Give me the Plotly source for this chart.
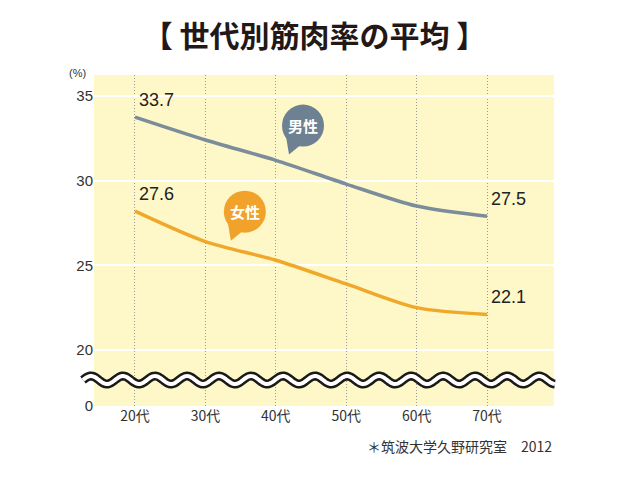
import numpy as np
import plotly.graph_objects as go

# Data
ages = ['20代', '30代', '40代', '50代', '60代', '70代']
men = [33.75, 32.4, 31.2, 29.8, 28.5, 27.9]
women = [28.2, 26.4, 25.3, 23.9, 22.5, 22.1]
men_labels = ['33.7', '27.5']
women_labels = ['27.6', '22.1']
y_ticks = [16.7, 20, 25, 30, 35]
y_ticktext = ['0', '20', '25', '30', '35']

MEN_COLOR = '#7b8c9a'
WOMEN_COLOR = '#f0a82a'
FONT = 'Liberation Sans, Noto Sans CJK JP, sans-serif'
CJK = 'Noto Sans CJK JP, sans-serif'

xs = list(range(len(ages)))
fig = go.Figure()

fig.add_trace(go.Scatter(x=xs, y=men, mode='lines',
                         line=dict(color=MEN_COLOR, width=3.5, shape='spline', smoothing=0.8),
                         hoverinfo='skip'))
fig.add_trace(go.Scatter(x=xs, y=women, mode='lines',
                         line=dict(color=WOMEN_COLOR, width=3.5, shape='spline', smoothing=0.8),
                         hoverinfo='skip'))

# value labels at first and last point
for vals, labs in ((men, men_labels), (women, women_labels)):
    for i, lab in zip((0, len(ages) - 1), labs):
        fig.add_annotation(x=xs[i], y=vals[i], text=lab, showarrow=False,
                           xanchor='left', yanchor='middle', xshift=2, yshift=17,
                           font=dict(family=FONT, size=18, color='#222222'))

# speech bubbles
def bubble(xa, ya, text, color):
    fig.add_shape(type='circle', xref='x', yref='y', xsizemode='pixel', ysizemode='pixel',
                  xanchor=xa, yanchor=ya, x0=-21, x1=21, y0=-21, y1=21,
                  fillcolor=color, line_width=0, layer='above')
    fig.add_shape(type='path', xref='x', yref='y', xsizemode='pixel', ysizemode='pixel',
                  xanchor=xa, yanchor=ya, path='M -17 -11 L -14 -29 L -3 -20 Z',
                  fillcolor=color, line_width=0, layer='above')
    fig.add_annotation(x=xa, y=ya, text='<b>' + text + '</b>', showarrow=False,
                       font=dict(family=CJK, size=15, color='white'))

bubble(2.386, 33.25, '男性', '#6e8192')
bubble(1.56, 28.17, '女性', '#f0a22a')

# wavy axis break, built in paper coordinates
wx = np.linspace(-0.024, 1.002, 400)
wy = 0.0785 + 0.0121 * np.sin(2 * np.pi * (wx + 0.024) / 0.0696)
wpath = 'M ' + ' L '.join(f'{a:.4f} {b:.4f}' for a, b in zip(wx, wy))
fig.add_shape(type='path', xref='paper', yref='paper', path=wpath,
              line=dict(color='#1a1a1a', width=9), layer='above')
fig.add_shape(type='path', xref='paper', yref='paper', path=wpath,
              line=dict(color='white', width=4), layer='above')

fig.add_annotation(xref='paper', yref='paper', x=-0.035, y=1.006, text='(%)',
                   showarrow=False, xanchor='center', yanchor='middle',
                   font=dict(family=FONT, size=11, color='#333333'))
fig.add_annotation(xref='paper', yref='paper', x=1.0, y=-0.12,
                   text='＊筑波大学久野研究室　2012', showarrow=False,
                   xanchor='right', yanchor='middle',
                   font=dict(family=CJK, size=14, color='#333333'))

# the page body adds 8px, so the figure is 8px smaller than the window
fig.update_layout(
    width=632, height=475,
    margin=dict(l=86, r=86, t=67, b=77),
    paper_bgcolor='white', plot_bgcolor='#fef7c8',
    showlegend=False,
    title=dict(text='<b>【 世代別筋肉率の平均 】</b>', x=0.485, xanchor='center',
               y=0.939, yanchor='middle',
               font=dict(family=CJK, size=30, color='#231815')),
)
fig.update_xaxes(range=[-0.582, 5.95], tickvals=xs, ticktext=ages,
                 showgrid=True, gridcolor='#999999', griddash='1px,2px', gridwidth=1,
                 zeroline=False, showline=False, ticks='',
                 tickfont=dict(family=CJK, size=14, color='#333333'))
fig.update_yaxes(range=[16.69, 36.24], tickvals=y_ticks, ticktext=y_ticktext,
                 showgrid=True, gridcolor='white', gridwidth=2,
                 zeroline=False, showline=False, ticks='',
                 tickfont=dict(family=FONT, size=15, color='#333333'))

fig.write_html('out.html')
